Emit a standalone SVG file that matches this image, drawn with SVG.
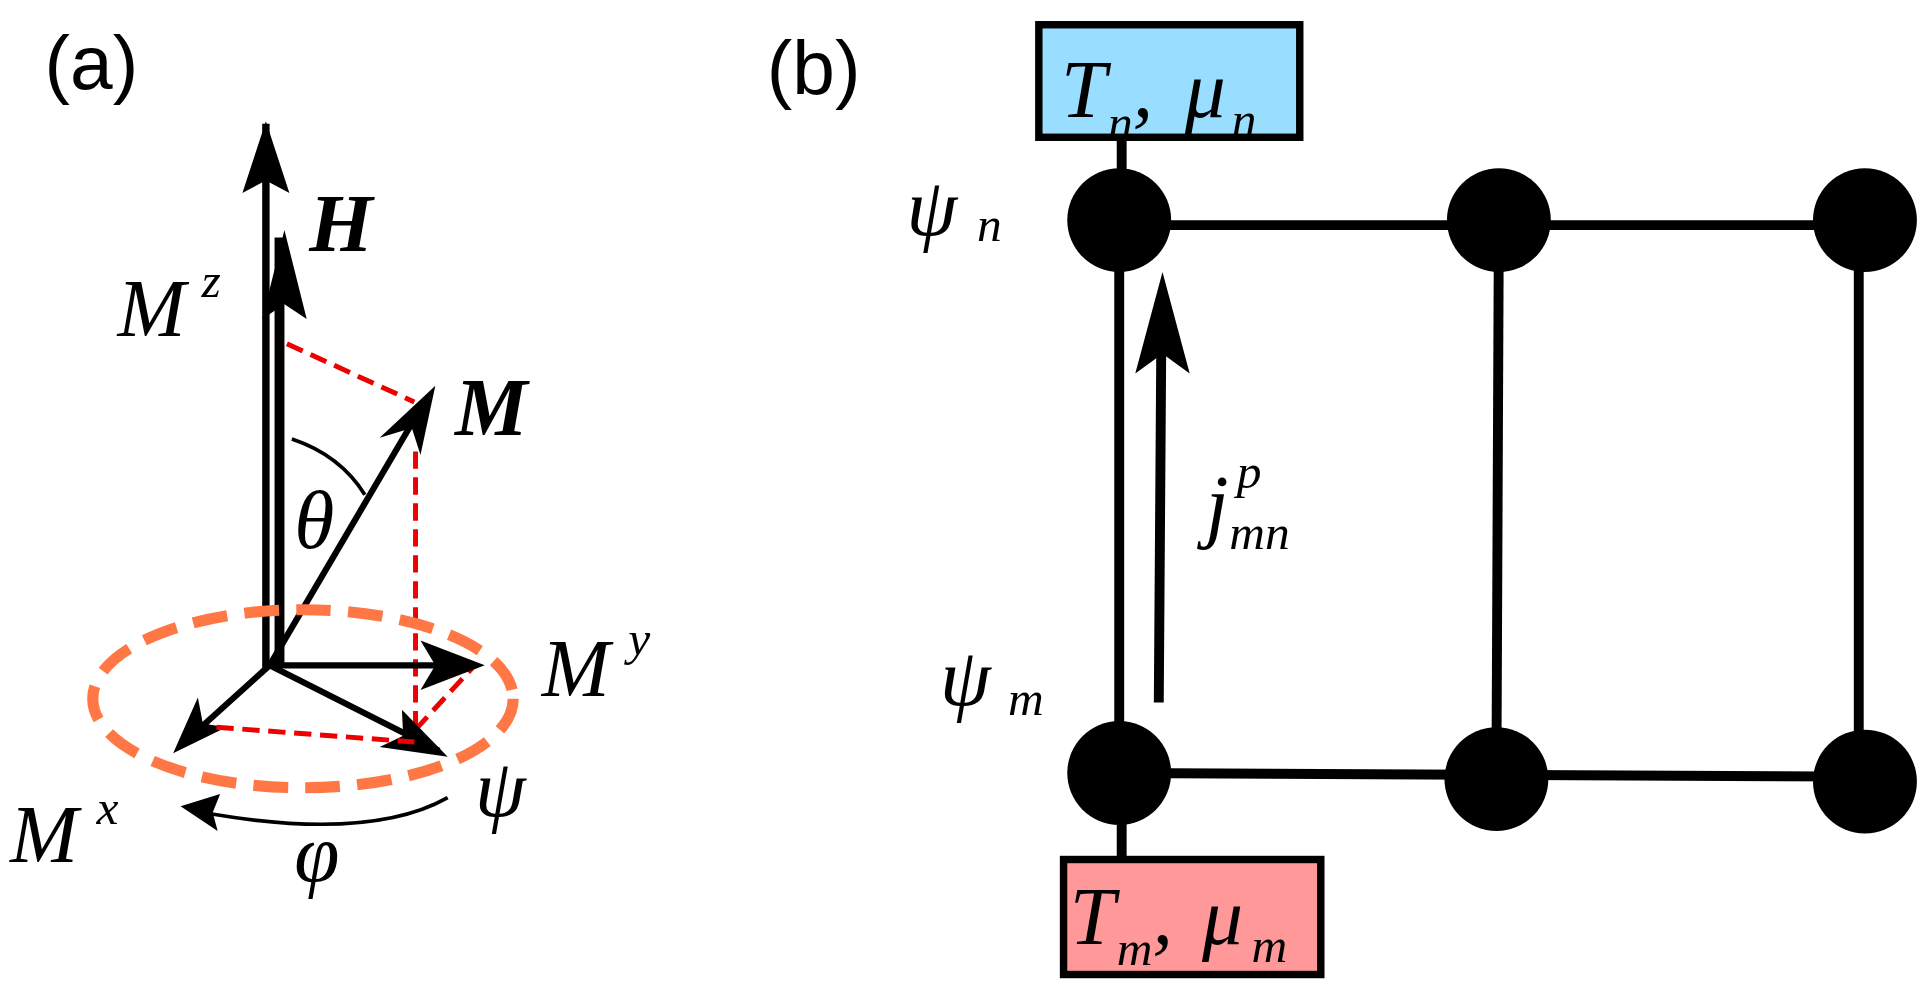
<svg xmlns="http://www.w3.org/2000/svg" width="1923" height="999" viewBox="0 0 1923 999">
<style>
.lbl{font-family:"Liberation Sans",sans-serif;font-size:62px}
.m{font-family:"Liberation Serif",serif;font-style:italic;font-size:66px}
.mb{font-family:"Liberation Serif",serif;font-style:italic;font-weight:bold;font-size:66px}
.sup{font-family:"Liberation Serif",serif;font-style:italic;font-size:40px}
.ln{stroke:#000;stroke-width:8;fill:none}
.red{stroke:#e00;stroke-width:4;stroke-dasharray:14,7;fill:none}
</style>
<defs>
<marker id="ah" viewBox="0 0 10 10" refX="9" refY="5" markerWidth="4" markerHeight="4" orient="auto" markerUnits="strokeWidth"><path d="M0,0 L10,5 L0,10 L3,5 z" fill="#000"/></marker>
</defs>
<rect width="1923" height="999" fill="#fff"/>
<g transform="scale(1.2367)">
<text class="lbl" x="36" y="72">(a)</text>
<text class="lbl" x="620" y="76">(b)</text>
<g id="vectors">
<line x1="215" y1="540" x2="215" y2="100" stroke="#000" stroke-width="6"/>
<path d="M215,98 L234,156 L215,146 L196,156 z" fill="#000"/>
<line x1="226" y1="540" x2="226" y2="192" stroke="#000" stroke-width="8"/>
<path d="M230,186 L248,258 L230,246 L212,258 z" fill="#000"/>
<line class="red" x1="232" y1="278" x2="335" y2="325"/>
<line x1="218" y1="538" x2="345" y2="322" stroke="#000" stroke-width="5"/>
<path d="M352,312 L340,368 L333,346 L307,354 z" fill="#000"/>
<path d="M236,355 Q275,368 295,400" stroke="#000" stroke-width="3" fill="none"/>
<line class="red" x1="336" y1="365" x2="336" y2="590"/>
<line class="red" x1="336" y1="590" x2="382" y2="540"/>
<line x1="218" y1="538" x2="385" y2="538" stroke="#000" stroke-width="5"/>
<path d="M392,538 L340,558 L352,538 L340,518 z" fill="#000"/>
<line x1="218" y1="538" x2="355" y2="607" stroke="#000" stroke-width="5"/>
<path d="M362,612 L307,604 L326,595 L325,574 z" fill="#000"/>
<line x1="218" y1="538" x2="146" y2="603" stroke="#000" stroke-width="5"/>
<path d="M140,609 L160,564 L164,585 L183,588 z" fill="#000"/>
<line class="red" x1="175" y1="588" x2="335" y2="600"/>
<ellipse cx="245" cy="565" rx="170" ry="72" fill="none" stroke="#ff7744" stroke-width="9" stroke-dasharray="28,14"/>
<path d="M362,645 Q300,680 170,658" stroke="#000" stroke-width="3" fill="none"/>
<path d="M146,652 L178,642 L172,657 L176,672 z" fill="#000"/>
</g>
<g id="labels-a">
<text class="mb" x="250" y="203">H</text>
<text class="m" x="95" y="272">M</text><text class="sup" x="163" y="240">z</text>
<text class="mb" x="368" y="352">M</text>
<text class="m" x="238" y="443">θ</text>
<text class="m" x="438" y="563">M</text><text class="sup" x="508" y="530">y</text>
<text class="m" x="8" y="697">M</text><text class="sup" x="78" y="666">x</text>
<text class="m" x="384" y="660">ψ</text>
<text class="m" x="238" y="712">φ</text>
</g>
<g id="connectors">
<line class="ln" x1="907" y1="112" x2="907" y2="160"/>
<line class="ln" x1="907" y1="660" x2="907" y2="694"/>
<line class="ln" x1="905" y1="182" x2="1508" y2="182"/>
<line class="ln" x1="905" y1="625" x2="1508" y2="628"/>
<line class="ln" x1="905" y1="178" x2="905" y2="625"/>
<line class="ln" x1="1212" y1="178" x2="1210" y2="630"/>
<line class="ln" x1="1503" y1="178" x2="1503" y2="632"/>
<line x1="937" y1="568" x2="939" y2="280" stroke="#000" stroke-width="8"/>
<path d="M940,220 L962,302 L940,286 L918,302 z" fill="#000"/>
</g>
<g id="node-n"><circle cx="905" cy="178" r="42"/></g>
<g id="node-2"><circle cx="1212" cy="178" r="42"/></g>
<g id="node-3"><circle cx="1508" cy="178" r="42"/></g>
<g id="node-m"><circle cx="905" cy="625" r="42"/></g>
<g id="node-5"><circle cx="1210" cy="630" r="42"/></g>
<g id="node-6"><circle cx="1508" cy="632" r="42"/></g>
<g id="box-n"><rect x="840" y="20" width="211" height="91" fill="#99ddff" stroke="#000" stroke-width="6"/>
<text class="m" x="858" y="95">T</text><text class="sup" x="896" y="112">n</text><text class="m" x="916" y="95">,</text><text class="m" x="958" y="95">μ</text><text class="sup" x="996" y="110">n</text></g>
<g id="box-m"><rect x="860" y="695" width="208" height="93" fill="#ff9999" stroke="#000" stroke-width="6"/>
<text class="m" x="865" y="763">T</text><text class="sup" x="903" y="780">m</text><text class="m" x="932" y="763">,</text><text class="m" x="972" y="763">μ</text><text class="sup" x="1012" y="778">m</text></g>
<g id="labels-b">
<text class="m" x="733" y="190">ψ</text><text class="sup" x="790" y="195">n</text>
<text class="m" x="760" y="570">ψ</text><text class="sup" x="815" y="578">m</text>
<text class="m" x="975" y="430">j</text><text class="sup" x="1000" y="395">p</text><text class="sup" x="994" y="444">mn</text>
</g>
</g>
</svg>
